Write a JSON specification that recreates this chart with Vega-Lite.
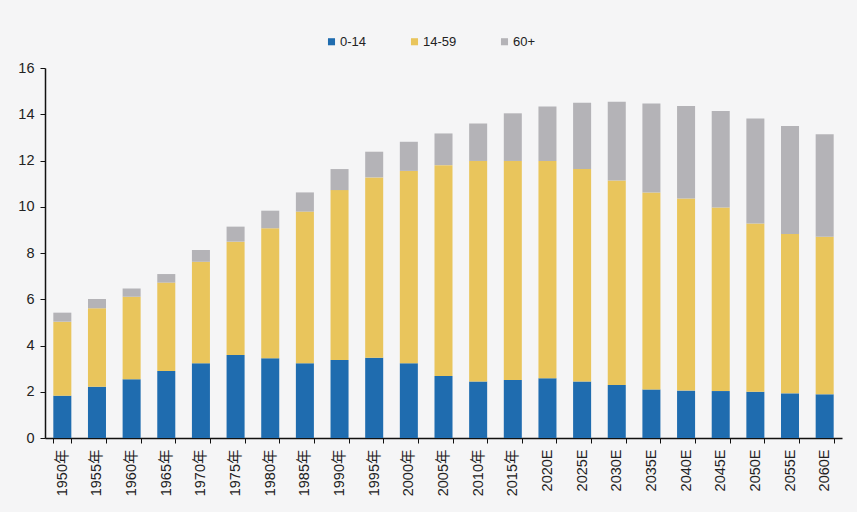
{
  "$schema": "https://vega.github.io/schema/vega-lite/v6.json",
  "autosize": "none",
  "width": 797,
  "height": 370,
  "padding": {"left": 45, "top": 68, "right": 15, "bottom": 74},
  "background": "#f5f5f6",
  "config": {"view": {"stroke": null}, "font": "Liberation Sans, Noto Sans CJK SC"},
  "data": {"values": [
    {"year": "1950年", "group": "0-14", "value": 1.83}, {"year": "1950年", "group": "14-59", "value": 3.2}, {"year": "1950年", "group": "60+", "value": 0.39},
    {"year": "1955年", "group": "0-14", "value": 2.22}, {"year": "1955年", "group": "14-59", "value": 3.39}, {"year": "1955年", "group": "60+", "value": 0.4},
    {"year": "1960年", "group": "0-14", "value": 2.54}, {"year": "1960年", "group": "14-59", "value": 3.57}, {"year": "1960年", "group": "60+", "value": 0.36},
    {"year": "1965年", "group": "0-14", "value": 2.9}, {"year": "1965年", "group": "14-59", "value": 3.82}, {"year": "1965年", "group": "60+", "value": 0.37},
    {"year": "1970年", "group": "0-14", "value": 3.23}, {"year": "1970年", "group": "14-59", "value": 4.39}, {"year": "1970年", "group": "60+", "value": 0.51},
    {"year": "1975年", "group": "0-14", "value": 3.59}, {"year": "1975年", "group": "14-59", "value": 4.9}, {"year": "1975年", "group": "60+", "value": 0.65},
    {"year": "1980年", "group": "0-14", "value": 3.45}, {"year": "1980年", "group": "14-59", "value": 5.62}, {"year": "1980年", "group": "60+", "value": 0.76},
    {"year": "1985年", "group": "0-14", "value": 3.23}, {"year": "1985年", "group": "14-59", "value": 6.56}, {"year": "1985年", "group": "60+", "value": 0.83},
    {"year": "1990年", "group": "0-14", "value": 3.37}, {"year": "1990年", "group": "14-59", "value": 7.35}, {"year": "1990年", "group": "60+", "value": 0.91},
    {"year": "1995年", "group": "0-14", "value": 3.47}, {"year": "1995年", "group": "14-59", "value": 7.8}, {"year": "1995年", "group": "60+", "value": 1.11},
    {"year": "2000年", "group": "0-14", "value": 3.23}, {"year": "2000年", "group": "14-59", "value": 8.32}, {"year": "2000年", "group": "60+", "value": 1.26},
    {"year": "2005年", "group": "0-14", "value": 2.68}, {"year": "2005年", "group": "14-59", "value": 9.12}, {"year": "2005年", "group": "60+", "value": 1.37},
    {"year": "2010年", "group": "0-14", "value": 2.44}, {"year": "2010年", "group": "14-59", "value": 9.54}, {"year": "2010年", "group": "60+", "value": 1.62},
    {"year": "2015年", "group": "0-14", "value": 2.51}, {"year": "2015年", "group": "14-59", "value": 9.47}, {"year": "2015年", "group": "60+", "value": 2.06},
    {"year": "2020E", "group": "0-14", "value": 2.58}, {"year": "2020E", "group": "14-59", "value": 9.4}, {"year": "2020E", "group": "60+", "value": 2.35},
    {"year": "2025E", "group": "0-14", "value": 2.44}, {"year": "2025E", "group": "14-59", "value": 9.19}, {"year": "2025E", "group": "60+", "value": 2.87},
    {"year": "2030E", "group": "0-14", "value": 2.29}, {"year": "2030E", "group": "14-59", "value": 8.84}, {"year": "2030E", "group": "60+", "value": 3.41},
    {"year": "2035E", "group": "0-14", "value": 2.1}, {"year": "2035E", "group": "14-59", "value": 8.52}, {"year": "2035E", "group": "60+", "value": 3.85},
    {"year": "2040E", "group": "0-14", "value": 2.05}, {"year": "2040E", "group": "14-59", "value": 8.31}, {"year": "2040E", "group": "60+", "value": 4.0},
    {"year": "2045E", "group": "0-14", "value": 2.03}, {"year": "2045E", "group": "14-59", "value": 7.94}, {"year": "2045E", "group": "60+", "value": 4.17},
    {"year": "2050E", "group": "0-14", "value": 2.0}, {"year": "2050E", "group": "14-59", "value": 7.28}, {"year": "2050E", "group": "60+", "value": 4.54},
    {"year": "2055E", "group": "0-14", "value": 1.93}, {"year": "2055E", "group": "14-59", "value": 6.89}, {"year": "2055E", "group": "60+", "value": 4.67},
    {"year": "2060E", "group": "0-14", "value": 1.89}, {"year": "2060E", "group": "14-59", "value": 6.81}, {"year": "2060E", "group": "60+", "value": 4.43}
  ]},
  "mark": {"type": "bar"},
  "encoding": {
    "x": {
      "field": "year", "type": "nominal", "sort": null, "title": null,
      "scale": {"paddingInner": 0.48, "paddingOuter": 0.24},
      "axis": {
        "labelAngle": -90, "labelFontSize": 14.5, "labelColor": "#222",
        "domainColor": "#111", "domainWidth": 1.5, "tickColor": "#111",
        "tickBand": "extent", "tickSize": 5, "labelPadding": 6
      }
    },
    "y": {
      "field": "value", "type": "quantitative", "aggregate": "sum", "stack": "zero", "title": null,
      "scale": {"domain": [0, 16]},
      "axis": {
        "values": [0, 2, 4, 6, 8, 10, 12, 14, 16], "grid": false,
        "labelFontSize": 14.5, "labelColor": "#222", "labelPadding": 6,
        "domainColor": "#111", "domainWidth": 1.5, "tickColor": "#111", "tickSize": 5
      }
    },
    "color": {
      "field": "group", "type": "nominal", "title": null,
      "scale": {"domain": ["0-14", "14-59", "60+"], "range": ["#1f6caf", "#e9c55c", "#b4b3b7"]},
      "legend": {
        "orient": "none", "direction": "horizontal", "legendX": 280, "legendY": -33,
        "symbolType": "square", "symbolSize": 50, "symbolStrokeWidth": 0,
        "labelFontSize": 13, "labelColor": "#222", "labelOffset": 2, "columnPadding": 41
      }
    },
    "order": {"field": "group", "sort": "ascending"}
  }
}
